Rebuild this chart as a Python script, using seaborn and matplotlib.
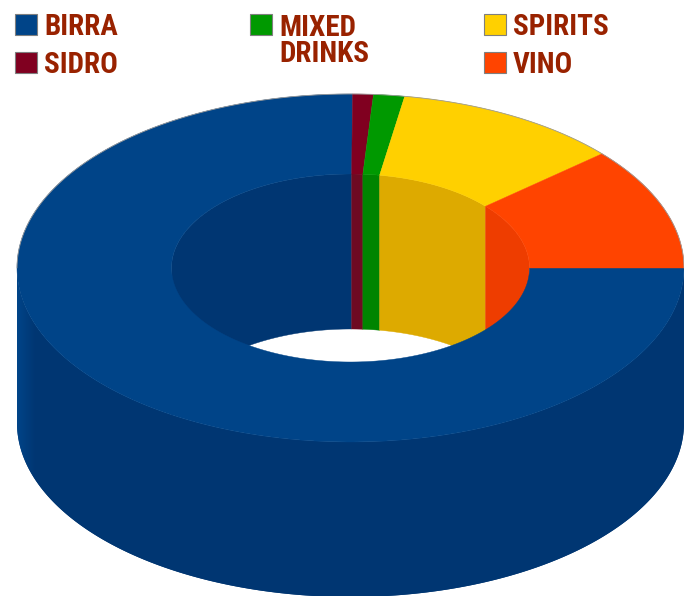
import numpy as np
import matplotlib
matplotlib.use("Agg")
import matplotlib.pyplot as plt
from matplotlib.patches import Rectangle
from matplotlib.colors import LinearSegmentedColormap
import seaborn as sns

# Market shares in percent, clockwise from the right-hand end of the ring
categories = ["BIRRA", "SIDRO", "MIXED\nDRINKS", "SPIRITS", "VINO"]
shares = [75.1, 1.0, 1.5, 11.0, 11.4]
top_colors = ["#004488", "#800020", "#009900", "#FFD000", "#FF4400"]
wall_colors = ["#003672", "#6E0A22", "#008400", "#DDAA00", "#EE3D00"]

# Ring geometry in pixels
CX, CY = 350.5, 268
RX_OUT, RY_OUT = 333.5, 174
RX_IN, RY_IN = 179, 94
DEPTH = 155

legend_slots = {
    "BIRRA": (15, 14), "SIDRO": (15, 52), "MIXED\nDRINKS": (250, 14),
    "SPIRITS": (484, 14), "VINO": (484, 52),
}
baselines = {"BIRRA": 35, "SIDRO": 73, "MIXED\nDRINKS": 62, "SPIRITS": 35, "VINO": 73}


def arc(rx, ry, t0, t1, dy=0.0, n=200):
    t = np.radians(np.linspace(t0, t1, n))
    return CX + rx * np.cos(t), CY - ry * np.sin(t) + dy


sns.set_theme(style="white")
plt.rcParams["font.family"] = ["Roboto Condensed", "Liberation Sans", "DejaVu Sans"]
top_pal = sns.color_palette(top_colors)
wall_pal = sns.color_palette(wall_colors)

fig = plt.figure(figsize=(6.84, 5.96), dpi=100)
ax = fig.add_axes([0, 0, 1, 1])

# Angular span of every slice, running clockwise from t = 0
ends = -np.cumsum(shares) / sum(shares) * 360.0
starts = np.concatenate(([0.0], ends[:-1]))

# Far side of the hole: each slice wraps at most once into the upper half
for s, e, col in zip(starts, ends, wall_pal):
    a0, a1 = max(e + 360, 0), min(s + 360, 180)
    if a1 > a0:
        x1, y1 = arc(RX_IN, RY_IN, a0, a1)
        x2, y2 = arc(RX_IN, RY_IN, a1, a0, DEPTH)
        ax.fill(np.r_[x1, x2], np.r_[y1, y2], color=col, lw=0.3, zorder=1)

# Front outer wall, brightening towards the left edge
x1, y1 = arc(RX_OUT, RY_OUT, 180, 360)
x2, y2 = arc(RX_OUT, RY_OUT, 360, 180, DEPTH)
wall, = ax.fill(np.r_[x1, x2], np.r_[y1, y2], color=wall_pal[0], lw=0, zorder=2)
shade = LinearSegmentedColormap.from_list("wall", [top_pal[0], wall_pal[0]])
grad = np.clip(np.linspace(0, 684, 684)[None, :] - 17, 0, 18) / 18
img = ax.imshow(grad, extent=(0, 684, 596, 0), cmap=shade, aspect="auto", zorder=2.1)
img.set_clip_path(wall)

# Top face of the ring
for s, e, col in zip(starts, ends, top_pal):
    x1, y1 = arc(RX_OUT, RY_OUT, s, e, n=400)
    x2, y2 = arc(RX_IN, RY_IN, e, s, n=400)
    ax.fill(np.r_[x1, x2], np.r_[y1, y2], color=col, lw=0.3, zorder=3)

# Fine grey outline along the far rim
x, y = arc(RX_OUT, RY_OUT, 0, 180, n=300)
ax.plot(x, y, color="#9a9a9a", lw=0.6, zorder=4)

# Legend swatches and labels
for name, col in zip(categories, top_pal):
    lx, ly = legend_slots[name]
    ax.add_patch(Rectangle((lx, ly), 22, 21, facecolor=col, edgecolor="#7f7f7f", lw=0.8, zorder=5))
    ax.text(lx + 29, baselines[name], name, color="#992200", fontsize=21, fontweight="bold",
            va="baseline", ha="left", linespacing=0.9, zorder=5)

ax.set_xlim(0, 684)
ax.set_ylim(596, 0)
ax.axis("off")

fig.savefig("out.png", dpi=100, facecolor="white")
